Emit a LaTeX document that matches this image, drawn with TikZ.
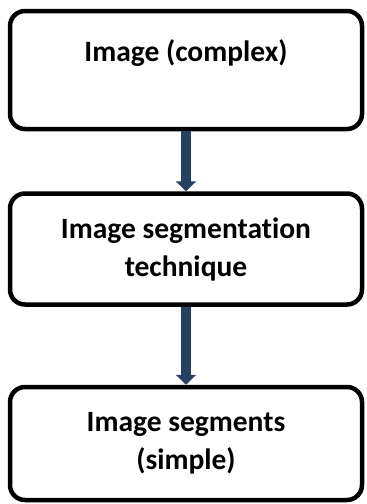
\documentclass[tikz,border=0pt]{standalone}
\usepackage{fontspec}
\setmainfont{Carlito}[Ligatures=NoCommon]
\usetikzlibrary{arrows.meta}
\definecolor{arrowblue}{RGB}{38,64,97}
\tikzset{
  stage/.style={draw, line width=4.5pt, rounded corners=15pt, minimum width=352pt,
    align=center, font=\bfseries\fontsize{29.5}{38}\selectfont},
  flow/.style={arrowblue, line width=10pt, -{Triangle[width=20pt,length=10pt]}}
}
\begin{document}
\begin{tikzpicture}[x=1pt,y=-1pt]
\useasboundingbox (0,0) rectangle (367,504);
% boxes
\node[stage, minimum height=118pt] (image) at (186,70) {Image (complex)\\[-10pt] \strut};
\node[stage, minimum height=111pt] (method) at (186,249) {Image segmentation\\technique};
\node[stage, minimum height=113pt] (segments) at (186,443.5) {Image segments\\(simple)};

% arrows
\draw[flow] (image.south) -- (method.north);
\draw[flow] (method.south) -- (segments.north);
\end{tikzpicture}
\end{document}
